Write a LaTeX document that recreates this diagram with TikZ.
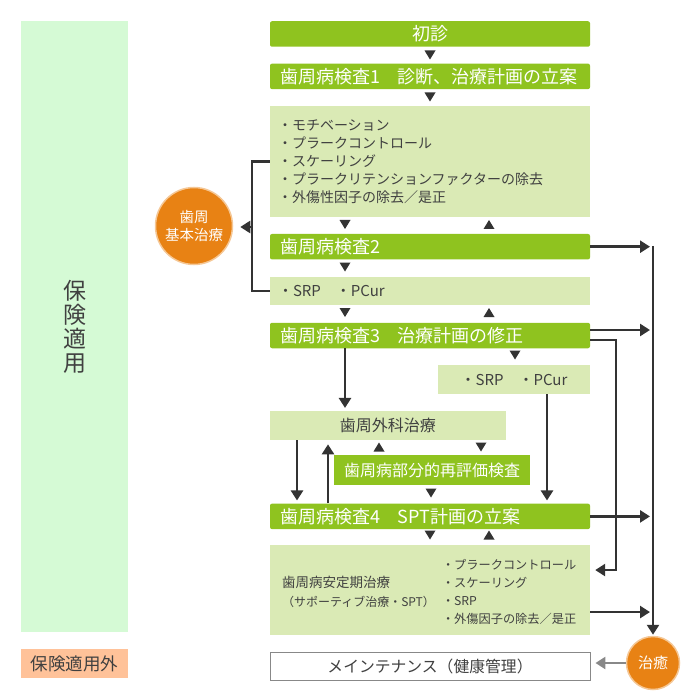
\documentclass[tikz,border=0pt]{standalone}
\usepackage{fontspec}
\setmainfont{Noto Sans CJK JP}
\usepackage{xcolor}
\definecolor{mainDark}{HTML}{333333}
\definecolor{textDark}{HTML}{404040}
\definecolor{barGreen}{HTML}{8FC31F}
\definecolor{paleGreen}{HTML}{DAEAB5}
\definecolor{insGreen}{HTML}{D5FAD5}
\definecolor{outPeach}{HTML}{FFC299}
\definecolor{careOrange}{HTML}{E88214}
\definecolor{backGray}{HTML}{888888}
\usepackage{tikz}
\usetikzlibrary{positioning,calc,arrows.meta}
\tikzset{%
  greenBar/.style={%
    rectangle,
    rounded corners=2pt,
    fill=barGreen,
    text=white,
    text width=300pt,
    minimum height=25.5pt,
    inner xsep=10pt,
    inner ysep=1pt,
    align=left,
    font=\fontsize{18}{20}\selectfont
  },
  greenBox/.style={%
    rectangle,
    fill=barGreen,
    text=white,
    minimum width=196pt,
    minimum height=30pt,
    font=\fontsize{16}{19}\selectfont
  },
  paleBox/.style={%
    rectangle,
    fill=paleGreen,
    text=textDark,
    inner xsep=8pt,
    inner ysep=1pt,
    align=left,
    font=\fontsize{15}{18}\selectfont
  },
  sideBox/.style={%
    rectangle,
    text=textDark,
    minimum width=107pt,
    align=center
  },
  careCircle/.style={%
    circle,
    fill=careOrange,
    draw=careOrange!45,
    line width=1.5pt,
    text=white,
    inner sep=0pt,
    align=center
  },
  maintBox/.style={%
    rectangle,
    draw=backGray,
    fill=white,
    line width=0.9pt,
    text=textDark,
    minimum width=320pt,
    minimum height=28pt,
    font=\fontsize{15.8}{18}\selectfont
  },
  arrowLine/.style={%
    -{Triangle[length=10pt,width=12pt]},
    line width=2.8pt,
    color=mainDark
  },
  plainLine/.style={%
    line width=2.5pt,
    color=mainDark
  },
  grayArrow/.style={%
    -{Triangle[length=10pt,width=12pt]},
    line width=2.8pt,
    color=backGray
  },
  triDown/.pic={\fill[mainDark] (-5.5,-4.5) -- (5.5,-4.5) -- (0,4.5) -- cycle;},
  triUp/.pic={\fill[mainDark] (-5.5,4.5) -- (5.5,4.5) -- (0,-4.5) -- cycle;}
}

\begin{document}
\begin{tikzpicture}[x=1pt,y=-1pt]
            \useasboundingbox (0,0) rectangle (700,700);

            \node[sideBox, fill=insGreen, minimum height=611pt, anchor=north west, font=\fontsize{23}{24}\selectfont] (insured) at (21,21) {保\\険\\適\\用};
            \node[sideBox, fill=outPeach, minimum height=29pt, anchor=north west, font=\fontsize{17.5}{20}\selectfont] (uninsured) at (21,649) {保険適用外};

            \node[greenBar, align=center] (firstVisit) at (430,34) {初診};
            \node[greenBar, below=16.5pt of firstVisit] (exam1) {歯周病検査1　診断、治療計画の立案};
            \node[paleBox, text width=304pt, minimum height=111pt, below=16.5pt of exam1, font=\fontsize{14}{18}\selectfont] (basicList) {・モチベーション\\・プラークコントロール\\・スケーリング\\・プラークリテンションファクターの除去\\・外傷性因子の除去／是正};
            \node[greenBar, below=16.5pt of basicList] (exam2) {歯周病検査2};
            \node[paleBox, text width=304pt, minimum height=28.5pt, below=17pt of exam2] (srpA) {・SRP　・PCur};
            \node[greenBar, below=17pt of srpA] (exam3) {歯周病検査3　治療計画の修正};
            \node[paleBox, minimum width=152pt, minimum height=29pt, below=16.5pt of exam3.south east, anchor=north east] (srpB) {・SRP　・PCur};
            \node[paleBox, minimum width=235.5pt, minimum height=29pt, below=62.5pt of exam3.south west, anchor=north west, font=\fontsize{16}{18}\selectfont] (surgery) {歯周外科治療};
            \node[greenBox] (partial) at (432,470) {歯周病部分的再評価検査};
            \node[greenBar, below=155pt of exam3] (exam4) {歯周病検査4　SPT計画の立案};
            \node[paleBox, minimum width=320pt, minimum height=90pt, below=15.5pt of exam4] (sptBox) {};
            \node[anchor=west, inner sep=0pt, align=left, text=textDark, font=\fontsize{13.5}{19}\selectfont] (sptName) at ($(sptBox.west)+(12,1.5)$) {歯周病安定期治療\\{\fontsize{12}{14}\selectfont（サポーティブ治療・SPT）}};
            \node[anchor=west, inner sep=0pt, align=left, text=textDark, font=\fontsize{12.2}{18}\selectfont] (sptList) at ($(sptBox.west)+(172,1.5)$) {・プラークコントロール\\・スケーリング\\・SRP\\・外傷因子の除去／是正};
            \node[maintBox, below=16.5pt of sptBox] (maint) {メインテナンス（健康管理）};

            \node[careCircle, minimum size=77pt, font=\fontsize{14.5}{18}\selectfont] (basicCare) at (194,226) {歯周\\基本治療};
            \node[careCircle, minimum size=53pt, font=\fontsize{15}{18}\selectfont] (cure) at (653,663) {治癒};

            \coordinate (railTop) at (653,246);
            \coordinate (loopTurn) at (616,0);
            \coordinate (bracketX) at (252,227);
            \coordinate (colSurg) at (345,0);
            \coordinate (colDown) at (297,0);
            \coordinate (colUp) at (328,0);
            \coordinate (colSrp) at (547,0);
            \coordinate (exam3In) at ($(exam3.east)+(0,-5.5)$);
            \coordinate (loopOut) at ($(exam3.east)+(0,4.5)$);
            \coordinate (sptIn) at ($(sptBox.east)+(5,-20)$);
            \coordinate (sptOut) at ($(sptBox.east)+(0,22)$);

            \pic at (430,55) {triDown};
            \pic at (430,97) {triDown};
            \pic at (345,224.5) {triDown};
            \pic at (489,224.5) {triUp};
            \pic at (345,267) {triDown};
            \pic at (345,312.5) {triDown};
            \pic at (489,312.5) {triUp};
            \pic at (515,355) {triDown};
            \pic at (379,447) {triUp};
            \pic at (481,447) {triDown};
            \pic at (431,493) {triDown};
            \pic at (430,535) {triDown};
            \pic at (489,535) {triUp};

            \draw[plainLine] (basicList.west) -- (basicList.west -| bracketX) |- (srpA.west);
            \draw[arrowLine, shorten >=7pt] (bracketX) -- (bracketX -| basicCare.east);

            \draw[arrowLine, shorten >=3pt] (exam3.south -| colSurg) -- (surgery.north -| colSurg);
            \draw[arrowLine, shorten >=3pt] (surgery.south -| colDown) -- (exam4.north -| colDown);
            \draw[arrowLine, shorten >=4pt] (exam4.north -| colUp) -- (surgery.south -| colUp);
            \draw[arrowLine, shorten >=3pt] (srpB.south -| colSrp) -- (exam4.north -| colSrp);

            \draw[arrowLine, shorten >=1pt] (railTop) -- (cure.north);
            \draw[arrowLine, shorten >=3pt] (exam2.east) -- (exam2.east -| railTop);
            \draw[arrowLine, shorten >=3pt] (exam3In) -- (exam3In -| railTop);
            \draw[arrowLine, shorten >=3pt] (exam4.east) -- (exam4.east -| railTop);
            \draw[arrowLine, shorten >=3pt] (sptOut) -- (sptOut -| railTop);
            \draw[arrowLine, line width=2.4pt] (loopOut) -| (loopTurn |- sptIn) -- (sptIn);

            \draw[grayArrow, shorten >=5pt] (cure.west) -- (cure.west -| maint.east);
        \end{tikzpicture}
\end{document}
